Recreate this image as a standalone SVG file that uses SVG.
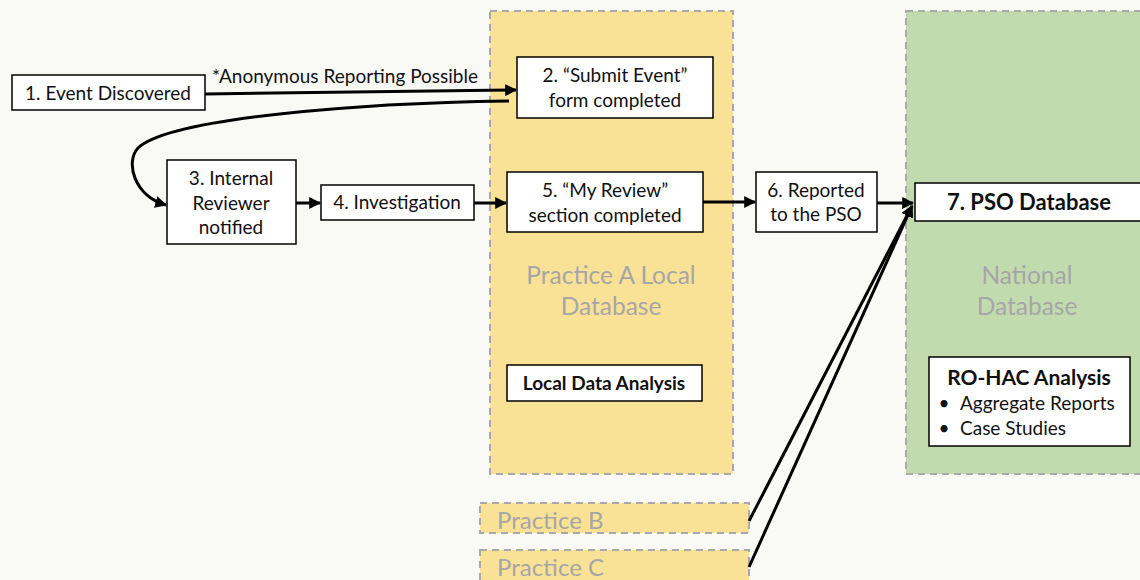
<svg xmlns="http://www.w3.org/2000/svg" width="1140" height="580" viewBox="0 0 1140 580">
  <defs>
    <marker id="arrow" viewBox="0 0 10 10" refX="9" refY="5" markerWidth="4" markerHeight="4" orient="auto" markerUnits="strokeWidth">
      <path d="M0,0 L10,5 L0,10 z" fill="#000"/>
    </marker>
    <style>
      .zone-a { fill: #f9e196; stroke: #a9a9a9; stroke-width: 2; stroke-dasharray: 7 5; }
      .zone-n { fill: #c2dbae; stroke: #a9a9a9; stroke-width: 2; stroke-dasharray: 7 5; }
      .box { fill: #ffffff; stroke: #000; stroke-width: 1.5; }
      .t { font-family: Lato, "Liberation Sans", sans-serif; font-size: 19px; fill: #111; text-anchor: middle; }
      .b { font-weight: bold; }
      .zl { font-family: Lato, "Liberation Sans", sans-serif; font-size: 24.5px; fill: #a6a6a6; text-anchor: middle; }
      .zs { font-family: Lato, "Liberation Sans", sans-serif; font-size: 24px; fill: #a6a6a6; }
      .edge { fill: none; stroke: #000; stroke-width: 3; marker-end: url(#arrow); }
    </style>
  </defs>

  <rect x="0" y="0" width="1140" height="580" fill="#f9f9f6"/>

  <!-- zones -->
  <g id="practice-a">
    <rect class="zone-a" x="490" y="11" width="243" height="463"/>
    <text class="zl" x="611" y="284">Practice A Local</text>
    <text class="zl" x="611" y="315">Database</text>
  </g>
  <g id="national">
    <rect class="zone-n" x="906" y="11" width="240" height="463"/>
    <text class="zl" x="1027" y="284">National</text>
    <text class="zl" x="1027" y="315">Database</text>
  </g>
  <g id="practice-b">
    <rect class="zone-a" x="480" y="503" width="269" height="30"/>
    <text class="zs" x="497" y="529">Practice B</text>
  </g>
  <g id="practice-c">
    <rect class="zone-a" x="480" y="550" width="269" height="40"/>
    <text class="zs" x="497" y="576">Practice C</text>
  </g>

  <!-- connectors -->
  <g id="connectors">
    <path class="edge" d="M205,94 L516,90"/>
    <text class="t" x="345" y="83">*Anonymous Reporting Possible</text>
    <path class="edge" d="M509,101 C360,103 170,118 138,148 C125,162 134,196 166,205"/>
    <path class="edge" d="M296,203 L320,203"/>
    <path class="edge" d="M474,203 L506,203"/>
    <path class="edge" d="M703,202 L755,202"/>
    <path class="edge" d="M877,203 L913,203"/>
    <path class="edge" d="M749,521 L912,206"/>
    <path class="edge" d="M749,567 L912,206"/>
  </g>

  <!-- nodes -->
  <g id="n1">
    <rect class="box" x="12" y="75" width="193" height="35"/>
    <text class="t" x="108" y="99.5">1. Event Discovered</text>
  </g>
  <g id="n2">
    <rect class="box" x="517" y="57" width="196" height="61"/>
    <text class="t" x="615" y="82">2. “Submit Event”</text>
    <text class="t" x="615" y="107">form completed</text>
  </g>
  <g id="n3">
    <rect class="box" x="167" y="160" width="129" height="84"/>
    <text class="t" x="231" y="185">3. Internal</text>
    <text class="t" x="231" y="210">Reviewer</text>
    <text class="t" x="231" y="234">notified</text>
  </g>
  <g id="n4">
    <rect class="box" x="321" y="185" width="153" height="35"/>
    <text class="t" x="397" y="209">4. Investigation</text>
  </g>
  <g id="n5">
    <rect class="box" x="507" y="172" width="196" height="60"/>
    <text class="t" x="605" y="197">5. “My Review”</text>
    <text class="t" x="605" y="222">section completed</text>
  </g>
  <g id="n6">
    <rect class="box" x="756" y="172" width="121" height="60"/>
    <text class="t" x="816" y="197">6. Reported</text>
    <text class="t" x="816" y="221">to the PSO</text>
  </g>
  <g id="n7">
    <rect class="box" x="915" y="183" width="240" height="38"/>
    <text class="t b" x="1029" y="210" style="font-size:22px">7. PSO Database</text>
  </g>
  <g id="local-analysis">
    <rect class="box" x="507" y="365" width="195" height="36"/>
    <text class="t b" x="604" y="390" style="font-size:19px">Local Data Analysis</text>
  </g>
  <g id="rohac">
    <rect class="box" x="929" y="357" width="201" height="89"/>
    <text class="t b" x="1029" y="385" style="font-size:21px">RO-HAC Analysis</text>
    <text class="t" x="944" y="410">•</text>
    <text class="t" x="960" y="410" style="text-anchor:start">Aggregate Reports</text>
    <text class="t" x="944" y="435">•</text>
    <text class="t" x="960" y="435" style="text-anchor:start">Case Studies</text>
  </g>
</svg>
